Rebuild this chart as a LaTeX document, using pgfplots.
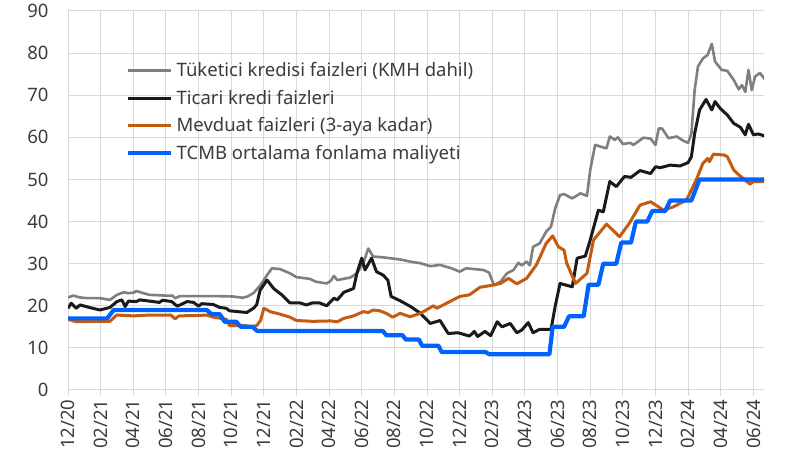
\documentclass[border=0pt]{standalone}
\usepackage{pgfplots}
\pgfplotsset{compat=1.18}
\usepackage{fontspec}
\setmainfont{Noto Sans}
\definecolor{cgray}{HTML}{7F7F7F}
\definecolor{cblack}{HTML}{1A1A1A}
\definecolor{corange}{HTML}{C55A11}
\definecolor{cblue}{HTML}{0063FF}
\definecolor{gridc}{HTML}{D9D9D9}
\definecolor{txt}{HTML}{3C3C3C}
\begin{document}
\begin{tikzpicture}[font=\fontsize{18.5}{22}\selectfont]
\begin{axis}[name=ax, scale only axis, width=696pt, height=379pt,
 xmin=0, xmax=42.65, ymin=0, ymax=90,
 xtick={0,2,...,42},
 xticklabels={12/20,02/21,04/21,06/21,08/21,10/21,12/21,02/22,04/22,06/22,08/22,10/22,12/22,02/23,04/23,06/23,08/23,10/23,12/23,02/24,04/24,06/24},
 ytick={0,10,...,90},
 axis line style={draw=none},
 grid=major, major grid style={gridc, line width=1pt},
 xtick pos=bottom, ytick pos=left, tick align=outside, major tick length=6pt,
 xtick style={gridc, line width=1pt}, ytick style={draw=none},
 xticklabel style={rotate=90, anchor=east, text=txt},
 yticklabel style={text=txt, xshift=-10pt},
 /pgf/number format/assume math mode=true,
 legend cell align=left,
 legend style={at={(0.083,0.869)}, anchor=north west, draw=none, fill=none, text=txt, row sep=7.8pt, inner sep=0pt, column sep=1.5pt},
 legend image code/.code={\draw[#1] (0pt,0pt) -- (43pt,0pt);},
 line join=round,
]
\addplot[cgray, line width=2.6pt] coordinates {(0,22.0)(0.33,22.4)(0.7,22.0)(1.15,21.8)(1.96,21.8)(2.57,21.4)(3.0,22.6)(3.4,23.2)(3.7,23.0)(4.0,23.1)(4.2,23.5)(4.6,23.0)(5.0,22.6)(6.05,22.4)(6.4,22.4)(6.56,21.8)(6.86,22.3)(8.1,22.3)(9.0,22.3)(10.1,22.2)(10.7,21.9)(11.0,22.2)(11.36,23.0)(11.8,24.9)(12.2,27.3)(12.5,28.9)(13.0,28.7)(13.6,27.7)(14.0,26.8)(14.8,26.4)(15.2,25.7)(15.85,25.3)(16.1,25.9)(16.3,27.1)(16.5,26.1)(17.3,26.7)(17.7,27.7)(18.1,30.1)(18.4,33.6)(18.7,31.7)(19.3,31.5)(20.35,31.0)(20.96,30.5)(21.6,30.1)(22.2,29.4)(22.8,29.7)(23.5,28.9)(24.0,28.1)(24.4,28.9)(25.45,28.5)(25.8,27.9)(26.1,24.9)(26.5,25.7)(26.9,27.7)(27.3,28.5)(27.6,30.2)(27.8,29.6)(28.1,30.5)(28.3,29.6)(28.5,34.0)(28.9,34.8)(29.3,37.6)(29.6,38.8)(29.85,43.1)(30.15,46.3)(30.4,46.5)(30.9,45.5)(31.4,46.7)(31.8,46.1)(32.0,52.2)(32.3,58.2)(32.8,57.6)(33.0,57.4)(33.2,60.2)(33.5,59.4)(33.7,60.0)(34.0,58.4)(34.45,58.7)(34.65,58.2)(35.26,59.9)(35.7,59.7)(36.0,58.2)(36.2,62.1)(36.4,62.1)(36.8,59.8)(37.3,60.2)(37.7,59.2)(38.0,58.7)(38.2,60.9)(38.4,71.2)(38.6,76.8)(38.9,78.7)(39.2,79.6)(39.45,82.2)(39.65,78.0)(40.06,76.0)(40.4,75.8)(40.8,73.6)(41.1,71.4)(41.3,72.4)(41.5,70.8)(41.7,76.0)(41.9,71.2)(42.1,74.4)(42.4,75.3)(42.7,73.8)};
\addlegendentry{Tüketici kredisi faizleri (KMH dahil)}
\addplot[cblack, line width=3pt] coordinates {(0,19.4)(0.2,20.6)(0.5,19.4)(0.74,20.2)(1.3,19.6)(1.96,19.0)(2.57,19.6)(3.0,21.0)(3.3,21.4)(3.5,19.8)(3.7,21.1)(4.2,21.0)(4.4,21.4)(5.2,21.0)(5.6,20.8)(5.8,21.3)(6.35,21.0)(6.7,19.9)(7.3,21.0)(7.7,20.8)(8.0,19.9)(8.2,20.5)(8.9,20.3)(9.3,19.6)(9.7,19.4)(9.9,18.8)(10.95,18.4)(11.36,19.4)(11.56,20.2)(11.77,23.7)(12.2,26.1)(12.6,24.1)(13.1,22.6)(13.6,20.7)(14.2,20.7)(14.6,20.2)(15.0,20.7)(15.4,20.7)(15.85,20.0)(16.3,21.8)(16.5,21.4)(16.9,23.2)(17.5,24.1)(17.7,27.7)(18.0,31.3)(18.2,28.5)(18.6,31.3)(18.9,28.1)(19.3,27.3)(19.6,26.1)(19.8,22.2)(20.35,21.2)(21.0,19.8)(21.6,18.2)(22.2,15.8)(22.8,16.5)(23.3,13.4)(23.9,13.6)(24.6,12.8)(24.9,13.9)(25.1,12.7)(25.55,13.9)(25.9,12.9)(26.3,16.2)(26.6,15.0)(27.1,15.8)(27.5,13.6)(27.8,14.2)(28.2,16.0)(28.5,13.6)(28.9,14.4)(29.6,14.4)(29.85,19.8)(30.15,25.3)(30.9,24.5)(31.2,31.3)(31.7,31.8)(32.0,35.6)(32.5,42.7)(32.8,42.3)(33.2,49.5)(33.6,48.3)(34.1,50.7)(34.5,50.5)(35.05,52.1)(35.7,51.4)(36.0,53.0)(36.3,52.8)(36.9,53.4)(37.5,53.2)(38.0,54.0)(38.2,55.4)(38.4,60.9)(38.7,66.5)(39.1,69.0)(39.45,66.5)(39.65,68.5)(39.96,66.9)(40.4,65.3)(40.8,63.3)(41.2,62.4)(41.5,60.6)(41.7,63.1)(42.0,60.6)(42.3,60.8)(42.7,60.3)};
\addlegendentry{Ticari kredi faizleri}
\addplot[corange, line width=3pt] coordinates {(0,16.8)(0.5,16.2)(1.5,16.3)(2.57,16.3)(2.98,17.8)(4.0,17.6)(5.0,17.8)(6.3,17.8)(6.56,16.9)(6.8,17.6)(8.0,17.7)(8.5,17.8)(8.9,17.3)(9.7,16.8)(9.9,15.3)(10.85,15.3)(11.2,15.0)(11.56,15.3)(11.8,16.5)(12.0,19.4)(12.4,18.6)(13.0,18.0)(13.6,17.3)(14.0,16.5)(15.0,16.3)(16.1,16.4)(16.5,16.2)(16.9,17.0)(17.5,17.6)(18.1,18.6)(18.4,18.4)(18.7,19.0)(19.1,18.8)(19.5,18.2)(19.9,17.3)(20.35,18.2)(20.96,17.4)(21.6,18.2)(22.4,20.0)(22.6,19.4)(23.3,20.8)(24.0,22.2)(24.6,22.6)(25.25,24.4)(25.9,24.8)(26.5,25.3)(27.0,26.5)(27.5,25.2)(28.1,26.5)(28.7,29.7)(29.3,34.8)(29.7,36.6)(30.05,34.0)(30.4,33.2)(30.56,30.1)(31.1,25.3)(31.8,27.7)(32.2,35.6)(33.0,39.4)(33.8,36.4)(34.4,39.6)(35.05,43.9)(35.7,44.7)(36.5,42.7)(37.1,43.5)(37.9,45.1)(38.5,49.9)(38.9,53.8)(39.2,55.0)(39.3,54.2)(39.55,56.0)(40.2,55.8)(40.4,55.4)(40.8,52.2)(41.1,51.1)(41.6,49.5)(41.8,48.9)(42.0,49.5)(42.7,49.5)};
\addlegendentry{Mevduat faizleri (3-aya kadar)}
\addplot[cblue, line width=4.2pt] coordinates {(0,17)(2.4,17)(2.8,19)(8.5,19)(8.8,18)(9.3,18)(9.6,16.2)(10.3,16.2)(10.6,15)(11.3,15)(11.6,14)(19.3,14)(19.5,13)(20.5,13)(20.7,12)(21.5,12)(21.7,10.5)(22.7,10.5)(22.9,9)(25.6,9)(25.8,8.5)(29.5,8.5)(29.7,15)(30.4,15)(30.7,17.5)(31.6,17.5)(31.9,25)(32.5,25)(32.8,30)(33.6,30)(33.9,35)(34.5,35)(34.8,40)(35.5,40)(35.8,42.5)(36.6,42.5)(36.9,45)(38.2,45)(38.7,50)(42.7,50)};
\addlegendentry{TCMB ortalama fonlama maliyeti}
\end{axis}
\path ([shift={(-68pt,-74pt)}]ax.south west) rectangle ([shift={(22pt,11pt)}]ax.north east);
\end{tikzpicture}
\end{document}
